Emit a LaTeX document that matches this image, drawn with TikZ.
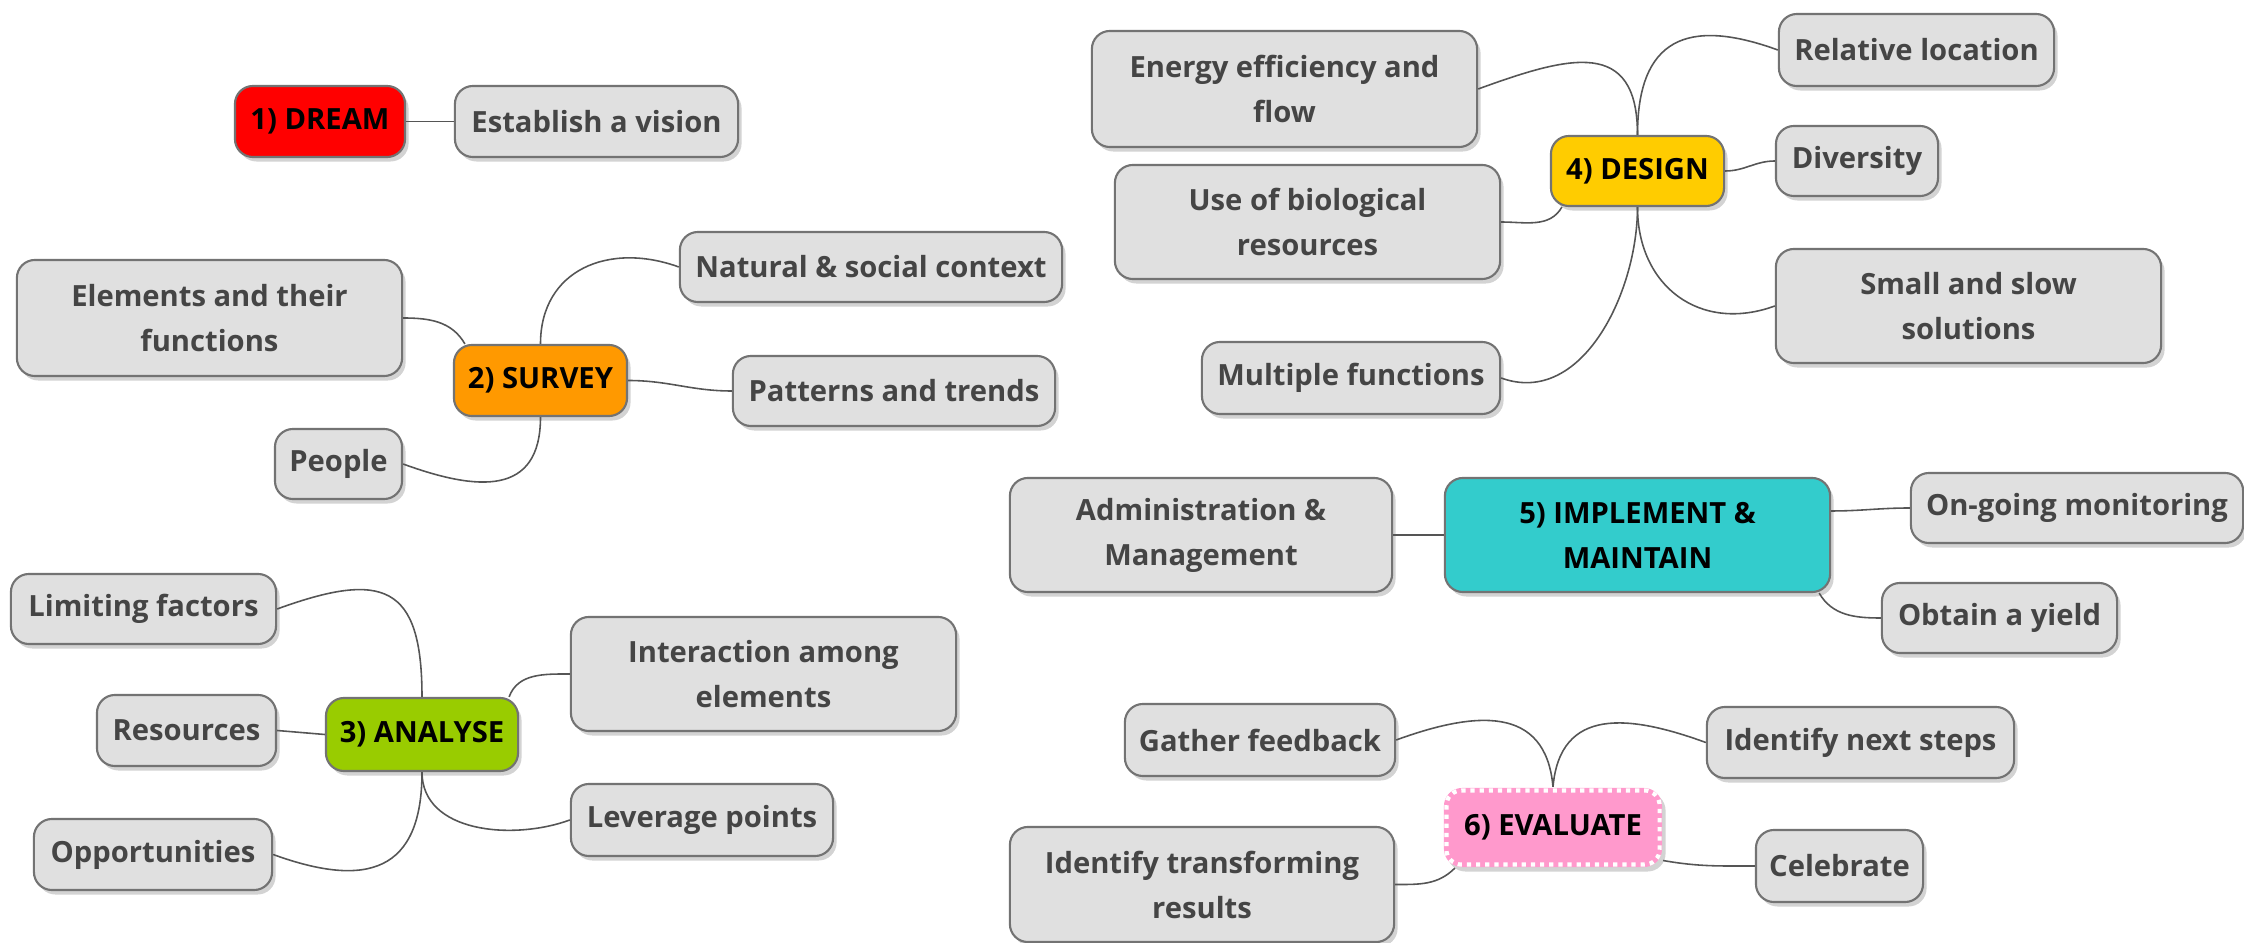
\documentclass[tikz,border=0pt]{standalone}
\usepackage{fontspec}
\setmainfont{Open Sans}
\usetikzlibrary{shadows}

\definecolor{boxgray}{HTML}{E0E0E0}
\definecolor{textgray}{HTML}{454545}
\definecolor{linegray}{HTML}{555555}
\definecolor{dreamred}{HTML}{FF0000}
\definecolor{surveyorange}{HTML}{FF9900}
\definecolor{analysegreen}{HTML}{99CC00}
\definecolor{designyellow}{HTML}{FFCC00}
\definecolor{implementteal}{HTML}{33CCCC}
\definecolor{evaluatepink}{HTML}{FF99CC}

\tikzset{
  bubble/.style={rounded corners=0.18cm, draw=black!55, line width=0.6pt,
    inner sep=0pt, align=center,
    font=\bfseries\fontsize{8.3}{12.8}\selectfont,
    drop shadow={shadow xshift=0.035cm, shadow yshift=-0.045cm, opacity=0.35}},
  idea/.style={bubble, fill=boxgray, text=textgray},
  stage/.style={bubble, text=black},
  evalbox/.style={stage, fill=evaluatepink, draw=none},
  evaldots/.style={draw=white, line width=1.2pt, rounded corners=0.15cm,
    dash pattern=on 1.2pt off 1.4pt},
  wh/.style 2 args={minimum width=#1cm, minimum height=#2cm},
  link/.style={draw=linegray, line width=0.45pt},
}

\begin{document}
\begin{tikzpicture}[x=0.01cm,y=0.01cm]
\useasboundingbox (0,0) rectangle (2244,-943);
%\draw[help lines] (0,-943) grid[step=100] (2244,0);

% 1) dream
\node[stage, fill=dreamred, wh={1.70}{0.71}] (dream) at (320,-121.5) {1) DREAM};
\node[idea, wh={2.83}{0.71}] (vision) at (596.5,-121.5) {Establish a vision};
\draw[link] (dream) -- (vision);

% 2) survey
\node[stage, fill=surveyorange, wh={1.73}{0.71}] (survey) at (540.5,-380.5) {2) SURVEY};
\node[idea, wh={3.85}{1.16}] (elements) at (209.5,-318) {Elements and their\\functions};
\node[idea, wh={3.82}{0.70}] (context) at (871,-267) {Natural \& social context};
\node[idea, wh={3.22}{0.70}] (patterns) at (894,-391) {Patterns and trends};
\node[idea, wh={1.27}{0.70}] (people) at (338.5,-464) {People};
\draw[link] (survey.north) to[out=90,in=160,looseness=1.2] (context.west);
\draw[link] (survey.east) to[out=0,in=180] (patterns.west);
\draw[link] ([xshift=0.12cm]survey.north west) to[out=120,in=0] (elements.east);
\draw[link] (survey.south) to[out=-90,in=-20,looseness=1.4] (people.east);

% 3) analyse
\node[stage, fill=analysegreen, wh={1.92}{0.73}] (analyse) at (422,-734.5) {3) ANALYSE};
\node[idea, wh={2.65}{0.70}] (limiting) at (143.5,-609) {Limiting factors};
\node[idea, wh={1.79}{0.71}] (resources) at (186.5,-730.5) {Resources};
\node[idea, wh={2.38}{0.71}] (opportunities) at (153,-854.5) {Opportunities};
\node[idea, wh={3.85}{1.14}] (interaction) at (763.5,-674) {Interaction among\\elements};
\node[idea, wh={2.62}{0.72}] (leverage) at (702,-820) {Leverage points};
\draw[link] (analyse.north) to[out=90,in=20,looseness=1.7] (limiting.east);
\draw[link] (analyse.west) -- (resources.east);
\draw[link] (analyse.south) to[out=-90,in=-20,looseness=1.5] (opportunities.east);
\draw[link] ([xshift=-0.1cm]analyse.north east) to[out=70,in=180] (interaction.west);
\draw[link] (analyse.south) to[out=-90,in=200] (leverage.west);

% 4) design
\node[stage, fill=designyellow, wh={1.73}{0.70}] (design) at (1637.5,-171) {4) DESIGN};
\node[idea, wh={3.85}{1.16}] (energy) at (1284.5,-89) {Energy efficiency and\\flow};
\node[idea, wh={3.85}{1.14}] (biological) at (1307.5,-222) {Use of biological\\resources};
\node[idea, wh={2.98}{0.72}] (multiple) at (1351,-378) {Multiple functions};
\node[idea, wh={2.75}{0.72}] (location) at (1916.5,-50) {Relative location};
\node[idea, wh={1.62}{0.70}] (diversity) at (1857,-161) {Diversity};
\node[idea, wh={3.85}{1.14}] (slow) at (1968.5,-306) {Small and slow\\solutions};
\draw[link] (design.north) to[out=90,in=20,looseness=1.5] (energy.east);
\draw[link] (design.north) to[out=90,in=160,looseness=1.5] (location.west);
\draw[link] (design.east) to[out=0,in=180] (diversity.west);
\draw[link] ([xshift=0.12cm]design.south west) to[out=240,in=0] (biological.east);
\draw[link] (design.south) to[out=-90,in=200,looseness=1.2] (slow.west);
\draw[link] (design.south) to[out=-90,in=-20] (multiple.east);

% 5) implement & maintain
\node[stage, fill=implementteal, wh={3.85}{1.14}] (implement) at (1637.5,-535) {5) IMPLEMENT \&\\MAINTAIN};
\node[idea, wh={3.82}{1.14}] (admin) at (1201,-535) {Administration \&\\Management};
\node[idea, wh={3.32}{0.70}] (monitoring) at (2077,-508) {On-going monitoring};
\node[idea, wh={2.35}{0.70}] (yield) at (1999.5,-618) {Obtain a yield};
\draw[link] (implement) -- (admin);
\draw[link] ([yshift=0.24cm]implement.east) to[out=0,in=180] (monitoring.west);
\draw[link] ([xshift=-0.12cm]implement.south east) to[out=-60,in=180] (yield.west);

% 6) evaluate
\node[evalbox, wh={2.18}{0.79}] (evaluate) at (1553,-827.5) {6) EVALUATE};
\draw[evaldots] ([shift={(0.035cm,-0.035cm)}]evaluate.north west) rectangle ([shift={(-0.035cm,0.035cm)}]evaluate.south east);
\node[idea, wh={2.70}{0.72}] (feedback) at (1260,-740) {Gather feedback};
\node[idea, wh={3.84}{1.15}] (transforming) at (1202,-884.5) {Identify transforming\\results};
\node[idea, wh={3.07}{0.71}] (nextsteps) at (1860.5,-742.5) {Identify next steps};
\node[idea, wh={1.67}{0.72}] (celebrate) at (1839.5,-866) {Celebrate};
\draw[link] (evaluate.north) to[out=95,in=20,looseness=1.3] (feedback.east);
\draw[link] (evaluate.north) to[out=85,in=160,looseness=1.3] (nextsteps.west);
\draw[link] ([xshift=0.12cm]evaluate.south west) to[out=225,in=0] (transforming.east);
\draw[link] ([yshift=-0.33cm]evaluate.east) to[out=-10,in=180] (celebrate.west);
\end{tikzpicture}
\end{document}
